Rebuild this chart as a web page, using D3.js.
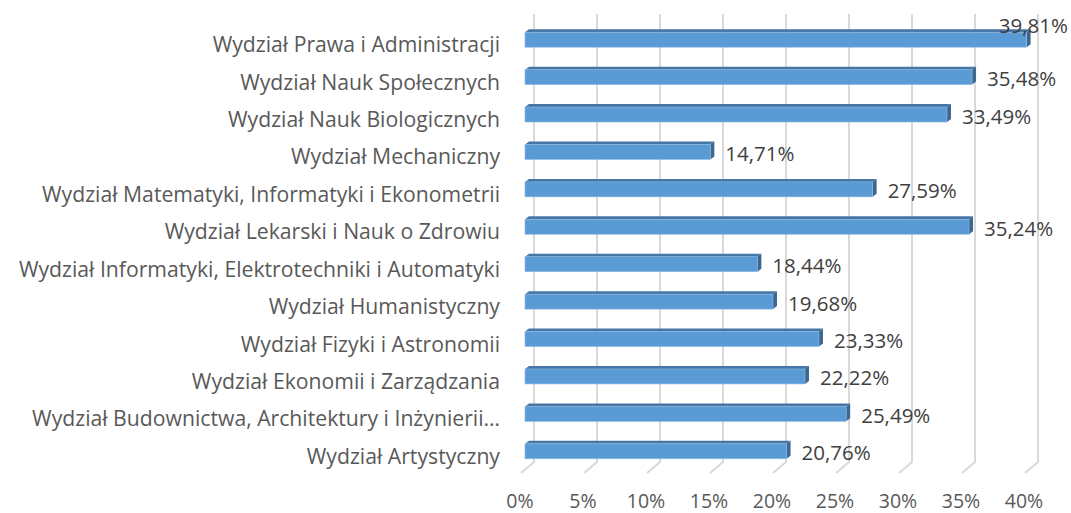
<!DOCTYPE html>
<html>
<head>
<meta charset="utf-8">
<script src="https://cdn.jsdelivr.net/npm/d3@7"></script>
<style>
  body { margin: 0; background: #fff; }
  text { font-family: "Open Sans", Lato, sans-serif; }
</style>
</head>
<body>
<div class="chart"></div>
<script>
var svgWidth = 1071;
var svgHeight = 513;

var categories = [
  "Wydział Prawa i Administracji",
  "Wydział Nauk Społecznych",
  "Wydział Nauk Biologicznych",
  "Wydział Mechaniczny",
  "Wydział Matematyki, Informatyki i Ekonometrii",
  "Wydział Lekarski i Nauk o Zdrowiu",
  "Wydział Informatyki, Elektrotechniki i Automatyki",
  "Wydział Humanistyczny",
  "Wydział Fizyki i Astronomii",
  "Wydział Ekonomii i Zarządzania",
  "Wydział Budownictwa, Architektury i Inżynierii…",
  "Wydział Artystyczny"
];
var values = [39.81, 35.48, 33.49, 14.71, 27.59, 35.24, 18.44, 19.68, 23.33, 22.22, 25.49, 20.76];
var valueLabels = ["39,81%", "35,48%", "33,49%", "14,71%", "27,59%", "35,24%", "18,44%", "19,68%", "23,33%", "22,22%", "25,49%", "20,76%"];
var ticks = [0, 5, 10, 15, 20, 25, 30, 35, 40];

// 3D offsets (floor depth, bar depth)
var floorDx = 13, floorDy = 11;
var barDx = 4, barDy = 3;

var svg = d3.select(".chart")
  .append("svg")
  .attr("width", svgWidth)
  .attr("height", svgHeight);

// front plane scale (bars) and back wall scale (gridlines)
var xScale = d3.scaleLinear().domain([0, 40]).range([525, 1029]);
var xBack = d3.scaleLinear().domain([0, 40]).range([534, 1038]);

var yScale = d3.scaleBand()
  .domain(categories)
  .range([21, 470])
  .paddingInner(0.6)
  .paddingOuter(0.3);

var gridTop = 14, gridBottom = 462;

// Gridlines: back wall + floor
var grid = svg.append("g");
grid.selectAll("path")
  .data(ticks)
  .enter()
  .append("path")
  .attr("d", d => `M${xBack(d)},${gridTop} L${xBack(d)},${gridBottom} L${xBack(d) - floorDx},${gridBottom + floorDy}`)
  .attr("fill", "none")
  .attr("stroke", "#d9d9d9")
  .attr("stroke-width", 2);

// Tick labels
svg.append("g").selectAll("text")
  .data(ticks)
  .enter()
  .append("text")
  .attr("x", d => xBack(d) - floorDx - 1)
  .attr("y", 500)
  .attr("text-anchor", "middle")
  .attr("dominant-baseline", "central")
  .attr("font-size", 19.5)
  .attr("fill", "#595959")
  .text(d => d + "%");

// Bars
var bars = svg.append("g").selectAll("g")
  .data(values)
  .enter()
  .append("g");

var bh = yScale.bandwidth();

// top face
bars.append("path")
  .attr("d", (d, i) => {
    var x0 = xScale(0), x1 = xScale(d), y = yScale(categories[i]);
    return `M${x0},${y} L${x0 + barDx},${y - barDy} L${x1 + barDx},${y - barDy} L${x1},${y} Z`;
  })
  .attr("fill", "#4676a6");

// side face
bars.append("path")
  .attr("d", (d, i) => {
    var x1 = xScale(d), y = yScale(categories[i]);
    return `M${x1},${y} L${x1 + barDx},${y - barDy} L${x1 + barDx},${y + bh - barDy} L${x1},${y + bh} Z`;
  })
  .attr("fill", "#3b6791");

// front face
bars.append("rect")
  .attr("x", xScale(0))
  .attr("y", (d, i) => yScale(categories[i]))
  .attr("width", d => xScale(d) - xScale(0))
  .attr("height", bh)
  .attr("fill", "#5b9bd5")
  .attr("stroke", "#8cb8e4")
  .attr("stroke-width", 0.6);

// Value labels
var vl = svg.append("g").selectAll("text")
  .data(values)
  .enter()
  .append("text")
  .attr("x", d => xScale(d) + barDx + 11)
  .attr("y", (d, i) => yScale(categories[i]) + bh / 2 + 1)
  .attr("dominant-baseline", "central")
  .attr("font-size", 20.5)
  .attr("fill", "#404040")
  .text((d, i) => valueLabels[i]);

// keep labels inside the picture (Excel moves overflowing label up/left)
vl.each(function () {
  var t = d3.select(this);
  var w = this.getComputedTextLength();
  var x = +t.attr("x");
  if (x + w > svgWidth - 2) {
    t.attr("x", svgWidth - 3 - w)
     .attr("y", +t.attr("y") - 16);
  }
});

// Category labels
svg.append("g").selectAll("text")
  .data(categories)
  .enter()
  .append("text")
  .attr("x", 500)
  .attr("y", d => yScale(d) + bh / 2 + 4)
  .attr("text-anchor", "end")
  .attr("dominant-baseline", "central")
  .attr("font-size", 21.2)
  .attr("fill", "#595959")
  .text(d => d);
</script>
</body>
</html>
